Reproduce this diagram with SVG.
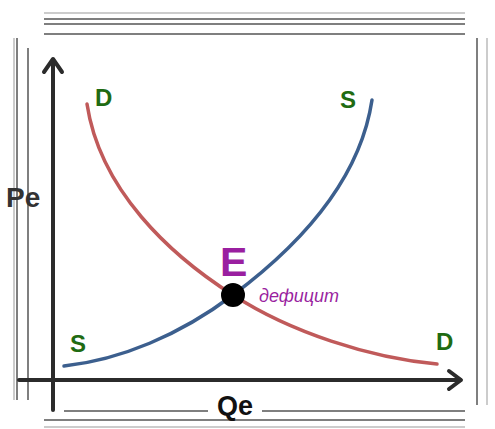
<svg xmlns="http://www.w3.org/2000/svg" width="495" height="429" viewBox="0 0 495 429">
<style>
.frame{stroke:#555;stroke-width:1.5;fill:none}
.framel{stroke:#bbb;stroke-width:1.5;fill:none}
.axis{stroke:#2b2b2b;stroke-width:4;fill:none;stroke-linecap:round;stroke-linejoin:round}
.lbl{font-family:"Liberation Sans",Arial,sans-serif;font-weight:bold;fill:#1f6b12;font-size:24px}
.curve{fill:none;stroke-width:3.5;stroke-linecap:round}
</style>
<rect width="495" height="429" fill="#fff"/>
<g id="frame">
<line class="framel" x1="44" y1="13" x2="465" y2="13"/>
<line class="frame" x1="44" y1="19" x2="465" y2="19"/>
<line class="frame" x1="44" y1="24" x2="465" y2="24"/>
<line class="frame" x1="44" y1="34" x2="465" y2="34"/>
<line class="framel" x1="14" y1="38" x2="14" y2="400"/>
<line class="frame" x1="17" y1="38" x2="17" y2="400"/>
<line class="frame" x1="28" y1="48" x2="28" y2="400"/>
<line class="frame" x1="64" y1="411" x2="208" y2="411"/>
<line class="frame" x1="262" y1="411" x2="465" y2="411"/>
<line class="frame" x1="44" y1="420" x2="465" y2="420"/>
<line class="framel" x1="44" y1="427" x2="465" y2="427"/>
<line class="frame" x1="477" y1="38" x2="477" y2="405"/>
<line class="framel" x1="487" y1="38" x2="487" y2="405"/>
</g>
<g id="axes">
<line class="axis" x1="53" y1="60" x2="53" y2="410"/>
<polyline class="axis" points="44,72 53,59 62,72"/>
<line class="axis" x1="19" y1="380" x2="460" y2="380"/>
<polyline class="axis" points="449,371 461,380 449,389"/>
</g>
<g id="connectors">
<path id="demand" class="curve" stroke="#c05a5a" d="M87,104 C100,190 170,255 233,295 C290,332 370,358 437,364"/>
<path id="supply" class="curve" stroke="#3c5f8e" d="M64,366 C120,360 180,335 233,295 C300,245 360,180 372,100"/>
</g>
<g id="labels">
<text class="lbl" x="95" y="106">D</text>
<text class="lbl" x="340" y="108">S</text>
<text class="lbl" x="70" y="352">S</text>
<text class="lbl" x="436" y="350">D</text>
</g>
<g id="E">
<circle cx="233" cy="295" r="12" fill="#000"/>
<text x="220" y="276" font-family="Liberation Sans,Arial,sans-serif" font-weight="bold" font-size="41" fill="#9a1fa0">E</text>
<text x="259" y="302" font-family="Liberation Sans,Arial,sans-serif" font-style="italic" font-size="18" fill="#9a1fa0">дефицит</text>
</g>
<g id="axislabels">
<text x="6" y="207" font-family="Liberation Sans,Arial,sans-serif" font-weight="bold" font-size="28" fill="#333">Pe</text>
<text x="217" y="415" font-family="Liberation Sans,Arial,sans-serif" font-weight="bold" font-size="27" fill="#111">Qe</text>
</g>
</svg>
